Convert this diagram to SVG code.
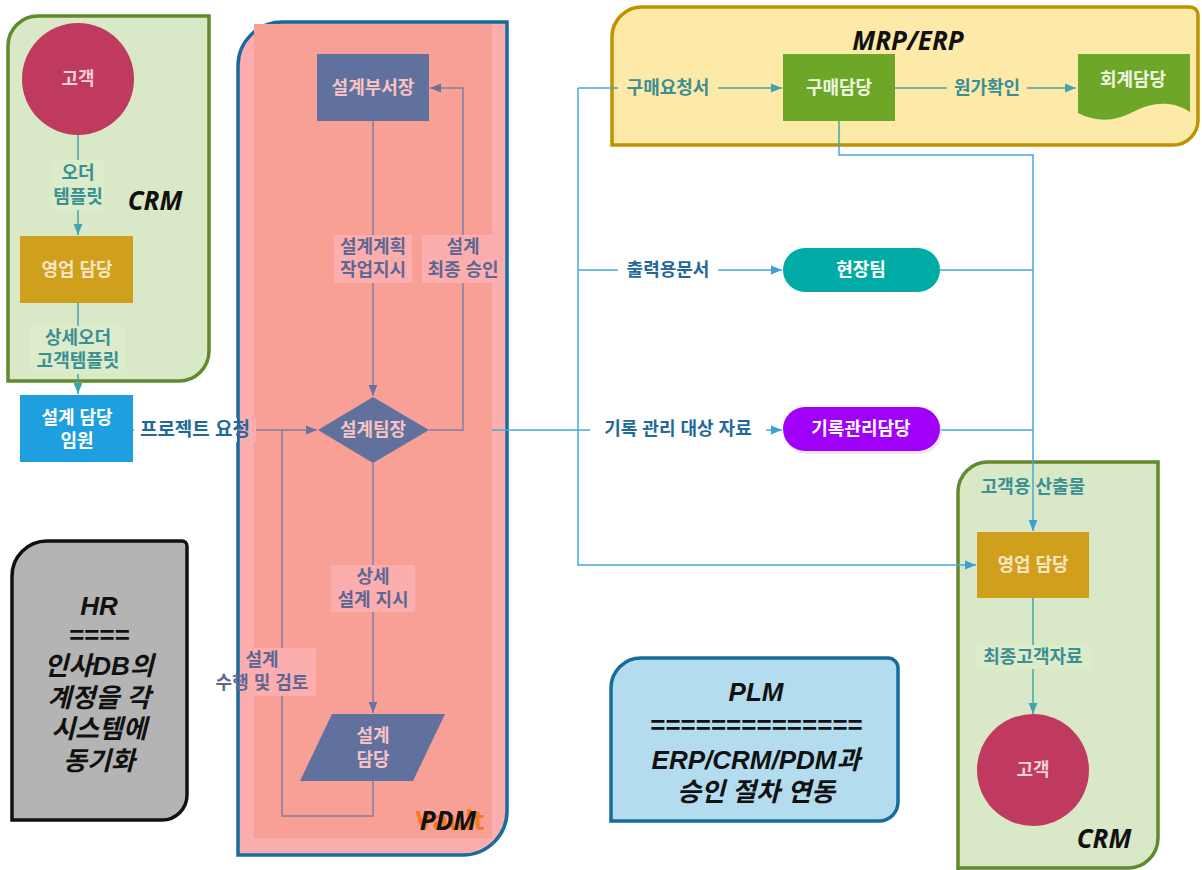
<svg xmlns="http://www.w3.org/2000/svg" width="1202" height="870" viewBox="0 0 1202 870">
<style>
.k{font-family:"Liberation Sans","Noto Sans CJK KR",sans-serif;font-weight:bold;font-size:18px;text-anchor:middle;dominant-baseline:central}
.t{font-family:"Open Sans","Noto Sans CJK KR",sans-serif;font-weight:bold;font-style:italic;font-size:26px;text-anchor:middle;dominant-baseline:central;fill:#111}
.tk{font-family:"Liberation Sans","Noto Sans CJK KR",sans-serif;font-weight:bold;font-style:italic;font-size:26px;text-anchor:middle;dominant-baseline:central;fill:#111}
.teal{stroke:#45a3ab;stroke-width:1.5;fill:none}
.blue{stroke:#45a9de;stroke-width:1.5;fill:none}
.slate{stroke:#7d7fa6;stroke-width:1.5;fill:none}
.lt{fill:#3a8f93}
.lb{fill:#1f6a9a}
.ls{fill:#5e6794}
.wn{fill:#f4d2d6}
.pn{fill:#f8c2c4}
</style>
<defs>
<marker id="aT" viewBox="0 0 10 10" refX="10" refY="5" markerWidth="11" markerHeight="11" markerUnits="userSpaceOnUse" orient="auto"><path d="M0,1 L10,5 L0,9 Z" fill="#45a3ab"/></marker>
<marker id="aB" viewBox="0 0 10 10" refX="10" refY="5" markerWidth="11" markerHeight="11" markerUnits="userSpaceOnUse" orient="auto"><path d="M0,1 L10,5 L0,9 Z" fill="#3c9fd8"/></marker>
<marker id="aS" viewBox="0 0 10 10" refX="10" refY="5" markerWidth="11" markerHeight="11" markerUnits="userSpaceOnUse" orient="auto"><path d="M0,1 L10,5 L0,9 Z" fill="#6b719e"/></marker>
</defs>
<rect width="1202" height="870" fill="#ffffff"/>

<!-- containers -->
<g id="crm-left">
<path d="M8,381 L8,46 A30,30 0 0 1 38,16 L209,16 L209,351 A30,30 0 0 1 179,381 Z" fill="#d9e8c6" stroke="#62892d" stroke-width="3.5"/>
<text class="t" x="155" y="200">CRM</text>
</g>
<g id="pdm">
<path d="M238,855 L238,66 A44,44 0 0 1 282,22 L507,22 L507,811 A44,44 0 0 1 463,855 Z" fill="#fcaeae" stroke="#176c9c" stroke-width="3.5"/>
<rect x="254" y="24" width="238" height="814" fill="#f9a096"/>
<text x="450" y="820" style="font-family:'Open Sans',sans-serif;font-weight:bold;font-size:26px;text-anchor:middle;dominant-baseline:central;fill:#f07c1c">Vault</text>
<text class="t" x="448" y="820">PDM</text>
</g>
<g id="mrp-erp">
<path d="M612,145 L612,37 A30,30 0 0 1 642,7 L1190,7 A8,8 0 0 1 1198,15 L1198,120 A25,25 0 0 1 1173,145 Z" fill="#feeaa8" stroke="#bf9200" stroke-width="3.5"/>
<text class="t" x="908" y="40">MRP/ERP</text>
</g>
<g id="crm-right">
<path d="M958,872 L958,492 A30,30 0 0 1 988,462 L1158,462 L1158,838 A30,30 0 0 1 1128,868 L958,868" fill="#d9e8c6" stroke="#62892d" stroke-width="3.5"/>
<text class="t" x="1104" y="838">CRM</text>
</g>
<g id="hr">
<path d="M12,820 L12,576 A35,35 0 0 1 47,541 L182,541 A5,5 0 0 1 187,546 L187,795 A25,25 0 0 1 162,820 Z" fill="#b4b4b4" stroke="#111" stroke-width="3.5"/>
<text class="tk" x="99" y="606">HR</text>
<text class="tk" x="99" y="635">====</text>
<text class="tk" x="99" y="666">인사DB의</text>
<text class="tk" x="99" y="698">계정을 각</text>
<text class="tk" x="99" y="729">시스템에</text>
<text class="tk" x="99" y="761">동기화</text>
</g>
<g id="plm">
<path d="M611,821 L611,688 A30,30 0 0 1 641,658 L888,658 A10,10 0 0 1 898,668 L898,802 A19,19 0 0 1 879,821 Z" fill="#b3dcef" stroke="#176c9c" stroke-width="3.5"/>
<text class="tk" x="756" y="692">PLM</text>
<text class="tk" x="756" y="725">==============</text>
<text class="tk" x="756" y="760">ERP/CRM/PDM과</text>
<text class="tk" x="756" y="792">승인 절차 연동</text>
</g>

<!-- connectors -->
<g id="connectors">
<path class="teal" d="M78,135 V235" marker-end="url(#aT)"/>
<rect x="52" y="160" width="53" height="50" fill="#dcebca"/>
<text class="k lt" x="78" y="173">오더</text>
<text class="k lt" x="78" y="197">템플릿</text>
<path class="teal" d="M78,303 V394" marker-end="url(#aT)"/>
<rect x="30" y="326" width="96" height="48" fill="#dcebca"/>
<text class="k lt" x="78" y="338">상세오더</text>
<text class="k lt" x="78" y="361">고객템플릿</text>
<path class="slate" d="M133,430 H282"/>
<rect x="134" y="418" width="103" height="24" fill="#ffffff"/>
<rect x="241" y="418" width="15" height="24" fill="#fcaeae"/>
<text class="k lb" x="195" y="429" style="font-size:19px">프로젝트 요청</text>
<path class="slate" d="M373,121 V396" marker-end="url(#aS)"/>
<rect x="334" y="235" width="78" height="48" fill="#fcaeae"/>
<text class="k ls" x="373" y="247">설계계획</text>
<text class="k ls" x="373" y="270">작업지시</text>
<path class="slate" d="M429,430 H463 V88 H430" marker-end="url(#aS)"/>
<rect x="422" y="235" width="82" height="48" fill="#fcaeae"/>
<text class="k ls" x="463" y="247">설계</text>
<text class="k ls" x="463" y="270">최종 승인</text>
<path class="slate" d="M373,463 V713" marker-end="url(#aS)"/>
<rect x="331" y="565" width="84" height="47" fill="#fcaeae"/>
<text class="k ls" x="373" y="577">상세</text>
<text class="k ls" x="373" y="600">설계 지시</text>
<path class="slate" d="M373,781 V816 H282 V430 H317" marker-end="url(#aS)"/>
<rect x="243" y="648" width="73" height="48" fill="#fcaeae"/>
<text class="k ls" x="262" y="660">설계</text>
<text class="k ls" x="262" y="683">수행 및 검토</text>
<path class="blue" d="M492,430 H782" marker-end="url(#aB)"/>
<path class="blue" d="M578,88 V565 H976" marker-end="url(#aB)"/>
<path class="blue" d="M578,270 H782" marker-end="url(#aB)"/>
<path class="teal" d="M612,88 H782" marker-end="url(#aT)"/>
<path class="blue" d="M578,88 H612"/>
<rect x="618" y="76" width="100" height="24" fill="#feeaa8"/>
<text class="k lt" x="668" y="88">구매요청서</text>
<rect x="618" y="258" width="100" height="24" fill="#ffffff"/>
<text class="k lb" x="668" y="270">출력용문서</text>
<rect x="590" y="418" width="176" height="24" fill="#ffffff"/>
<text class="k lb" x="678" y="429">기록 관리 대상 자료</text>
<path class="teal" d="M895,88 H1076" marker-end="url(#aT)"/>
<rect x="947" y="76" width="80" height="24" fill="#feeaa8"/>
<text class="k lt" x="987" y="88">원가확인</text>
<path class="teal" d="M839,120 V145"/>
<path class="blue" d="M839,145 V155 H1033 V531" marker-end="url(#aB)"/>
<path class="blue" d="M940,270 H1033"/>
<path class="blue" d="M940,430 H1033"/>
<text class="k lt" x="1033" y="487">고객용 산출물</text>
<path class="teal" d="M1033,598 V714" marker-end="url(#aT)"/>
<rect x="975" y="645" width="116" height="24" fill="#dcebca"/>
<text class="k lt" x="1033" y="657">최종고객자료</text>
</g>

<!-- nodes -->
<g id="customer-left">
<circle cx="78" cy="79" r="56" fill="#c0395f"/>
<text class="k wn" x="78" y="79">고객</text>
</g>
<g id="sales-left">
<rect x="20" y="236" width="113" height="67" fill="#d09f1c"/>
<text class="k" x="77" y="270" fill="#f6e6c4">영업 담당</text>
</g>
<g id="design-exec">
<rect x="20" y="395" width="113" height="67" fill="#1e9fe0"/>
<text class="k" x="77" y="418" fill="#ffffff">설계 담당</text>
<text class="k" x="77" y="441" fill="#ffffff">임원</text>
</g>
<g id="dept-head">
<rect x="317" y="54" width="112" height="67" fill="#61719e"/>
<text class="k pn" x="373" y="88">설계부서장</text>
</g>
<g id="team-lead">
<path d="M318,430 L373,397 L429,430 L373,463 Z" fill="#61719e"/>
<text class="k pn" x="373" y="430">설계팀장</text>
</g>
<g id="designer">
<path d="M332,714 L445,714 L413,781 L300,781 Z" fill="#61719e"/>
<text class="k pn" x="373" y="736">설계</text>
<text class="k pn" x="373" y="760">담당</text>
</g>
<g id="purchasing">
<rect x="783" y="54" width="112" height="67" fill="#6ea727"/>
<text class="k" x="839" y="88" fill="#eef5e0">구매담당</text>
</g>
<g id="accounting">
<path d="M1078,54 H1190 V112 C1172,100 1152,102 1133,112 C1114,122 1096,122 1078,113 Z" fill="#6ea727"/>
<text class="k" x="1133" y="80" fill="#eef5e0">회계담당</text>
</g>
<g id="field-team">
<rect x="783" y="248" width="157" height="44" rx="22" fill="#00aba6"/>
<text class="k" x="861" y="270" fill="#ffffff">현장팀</text>
</g>
<g id="records">
<rect x="785" y="410" width="157" height="44" rx="22" fill="#e9d4f7" opacity="0.6"/>
<rect x="783" y="407" width="157" height="44" rx="22" fill="#a000fa"/>
<text class="k" x="861" y="429" fill="#ffffff">기록관리담당</text>
</g>
<g id="sales-right">
<rect x="977" y="532" width="112" height="66" fill="#d09f1c"/>
<text class="k" x="1033" y="565" fill="#f6e6c4">영업 담당</text>
</g>
<g id="customer-right">
<circle cx="1033" cy="770" r="56" fill="#c0395f"/>
<text class="k wn" x="1033" y="770">고객</text>
</g>
</svg>
